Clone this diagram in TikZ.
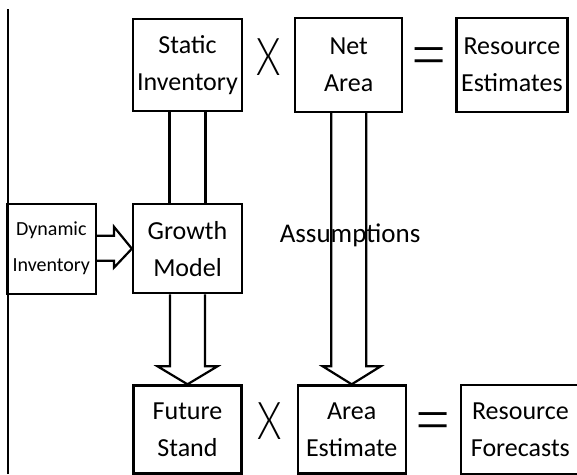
\documentclass[tikz,border=0pt]{standalone}
\usepackage{fontspec}
\setmainfont{Carlito}
\newfontfamily\opfont{Lato Light}
\usetikzlibrary{positioning, calc}
\tikzset{
    box/.style={rectangle, draw=black, line width=2.2pt, align=center, inner sep=2pt,
                minimum width=109pt, minimum height=90pt,
                font=\fontsize{26}{37}\selectfont},
    smallbox/.style={box, font=\fontsize{20}{36}\selectfont},
    op/.style={inner sep=0pt, yshift=8pt, font=\opfont\fontsize{52}{52}\selectfont},
    eqop/.style={op, yshift=-8pt},
    note/.style={inner sep=0pt, font=\fontsize{27}{30}\selectfont},
    shaft/.style={line width=2.2pt, line join=miter},
}

\begin{document}
\begin{tikzpicture}[x=1pt, y=1pt]

  \useasboundingbox (0,0) rectangle (577,474);

  % top row
  \node[box, minimum height=92pt] (stat) at (187.5,409) {Static\\Inventory};
  \node[box, right=51pt of stat, minimum width=107pt, minimum height=94pt] (net) {Net\\Area};
  \node[box, right=52pt of net, minimum width=111pt, minimum height=94pt] (est) {Resource\\Estimates};

  % middle row
  \node[box, below=91pt of stat, minimum height=89pt] (grow) {Growth\\Model};
  \node[smallbox, left=35pt of grow, minimum width=89pt] (dyn) {Dynamic\\Inventory};

  % bottom row
  \node[box, below=90pt of grow, minimum width=108pt, minimum height=88pt] (fut) {Future\\Stand};
  \node[box, right=54pt of fut, minimum width=108pt, minimum height=88pt] (area) {Area\\Estimate};
  \node[box, right=53pt of area, minimum width=119pt, minimum height=89pt] (fcst) {Resource\\Forecasts};

  % operators
  \node[op] (times1) at ($(stat.east)!0.5!(net.west)$) {\scalebox{0.75}[1]{X}};
  \node[eqop] (eq1) at ($(net.east)!0.5!(est.west)$) {\scalebox{1.3}[1.5]{=}};
  \node[op] (times2) at ($(fut.east)!0.5!(area.west)$) {\scalebox{0.75}[1]{X}};
  \node[eqop] (eq2) at ($(area.east)!0.5!(fcst.west)$) {\scalebox{1.3}[1.5]{=}};

  \node[note] (assum) at ($(net.south)!0.45!(area.north)$) {Assumptions};

  % margin line
  \draw[shaft] (8,0) -- (8,465);

  % wide arrows
  \draw[shaft] ($(stat.south)+(-18,0)$) -- ($(grow.north)+(-18,0)$);
  \draw[shaft] ($(stat.south)+(18,0)$) -- ($(grow.north)+(18,0)$);

  \draw[shaft] ($(grow.south)+(-17.5,0)$) |- ($(fut.north)+(-30,18)$) -- (fut.north)
               -- ($(fut.north)+(30,18)$) -| ($(grow.south)+(17.5,0)$);

  \draw[shaft] ($(net.south)+(-17.5,0)$) |- ($(area.north)+(-29,18)$) -- (area.north)
               -- ($(area.north)+(29,18)$) -| ($(net.south)+(17.5,0)$);

  \draw[shaft] ($(dyn.east)+(0,13)$) -| ($(grow.west)+(-18,22)$) -- (grow.west)
               -- ($(grow.west)+(-18,-19)$) |- ($(dyn.east)+(0,-12)$);

\end{tikzpicture}
\end{document}
